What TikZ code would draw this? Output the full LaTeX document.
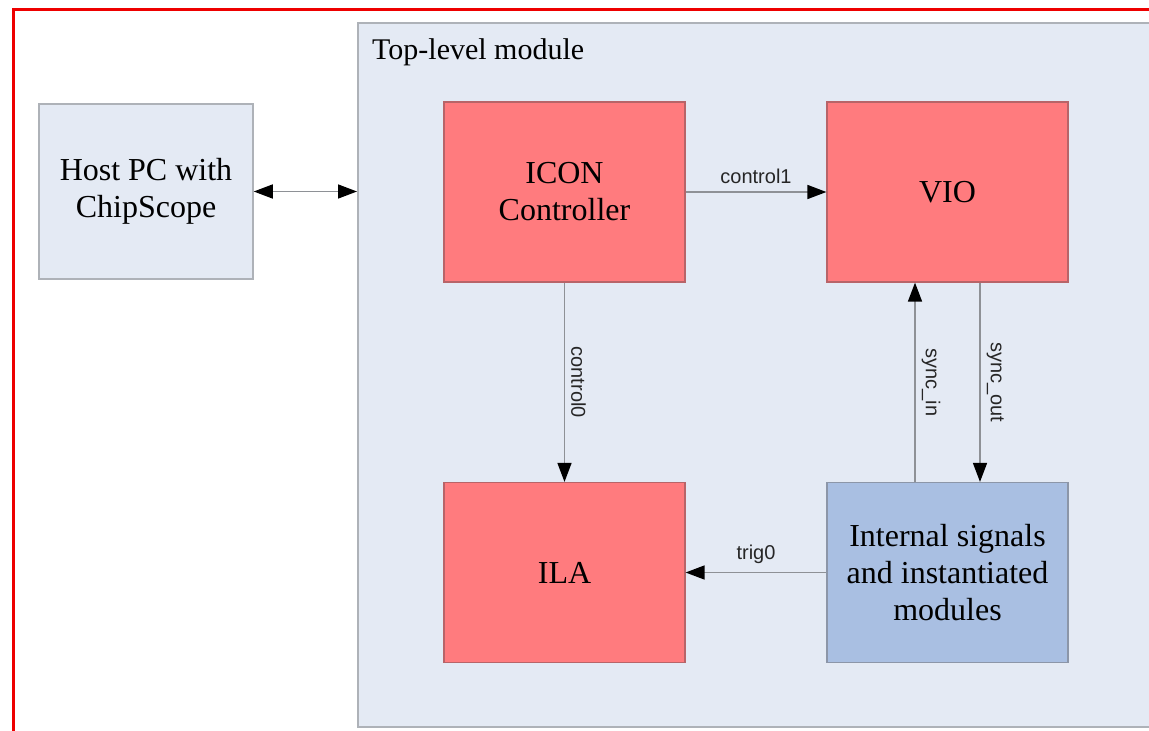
\documentclass[tikz,border=0pt]{standalone}
\usepackage{fontspec}
\setmainfont{Liberation Serif}
\newfontfamily\labfont{Liberation Sans}
\usetikzlibrary{arrows.meta}
\definecolor{panel}{HTML}{E4EAF4}
\definecolor{panelline}{HTML}{AEB2B8}
\definecolor{redfill}{HTML}{FF7B7E}
\definecolor{redline}{HTML}{B86468}
\definecolor{bluefill}{HTML}{A9BFE2}
\definecolor{blueline}{HTML}{8C96A8}
\definecolor{wire}{HTML}{8E9196}
\definecolor{frame}{HTML}{EE0000}
\tikzset{
  boxtext/.style={font=\fontsize{32}{37}\selectfont, align=center, text=black},
  hostbox/.style={draw=panelline, line width=1.5pt, fill=panel, minimum width=214, minimum height=175, inner sep=0pt, boxtext},
  redbox/.style={draw=redline, line width=1.2pt, fill=redfill, minimum width=241, minimum height=180, inner sep=0pt, boxtext},
  bluebox/.style={draw=blueline, line width=1.2pt, fill=bluefill, minimum width=241, minimum height=180, inner sep=0pt, boxtext},
  modbox/.style={draw=panelline, line width=1.5pt, fill=panel, inner sep=0pt},
  wireline/.style={draw=wire, line width=1.5pt, -{Triangle[length=19pt,width=14pt,color=black]}},
  siglabel/.style={font=\labfont\fontsize{20}{22}\selectfont, text=black!85, inner sep=0pt}
}
\begin{document}
\begin{tikzpicture}[x=1pt,y=-1pt]
\useasboundingbox (0,0) rectangle (1149,731);
\fill[white] (0,0) rectangle (1149,731);
% red frame
\draw[frame, line width=3pt] (13,760) -- (13,9) -- (1200,9);
% top-level module panel (right side runs past the edge of the picture)
\node[modbox, minimum width=900, minimum height=704, anchor=north west] (module) at (357,22) {};
\node[font=\fontsize{30}{34}\selectfont, anchor=base west, inner sep=0pt] (modlabel) at (372,59) {Top-level module};
% boxes
\node[hostbox] (host) at (146,191.5) {Host PC with\\ChipScope};
\node[redbox] (icon) at (564.5,192) {ICON\\Controller};
\node[redbox] (vio) at (947.5,192) {VIO};
\node[redbox] (ila) at (564.5,572.5) {ILA};
\node[bluebox] (int) at (947.5,572.5) {Internal signals\\and instantiated\\modules};
% connectors
\draw[wireline, {Triangle[length=19pt,width=14pt,color=black]}-{Triangle[length=19pt,width=14pt,color=black]}] (host.east) -- (host.east -| module.west);
\draw[wireline] (icon.east) -- node[siglabel, above=8pt] (lc1) {control1} (vio.west);
\draw[wireline] (icon.south) -- node[siglabel, xshift=6pt, rotate=-90, anchor=south] (lc0) {control0} (ila.north);
\coordinate (sinb) at ([xshift=-32.5pt]int.north);
\coordinate (sint) at ([xshift=-32.5pt]vio.south);
\coordinate (soutt) at ([xshift=32.5pt]vio.south);
\coordinate (soutb) at ([xshift=32.5pt]int.north);
\draw[wireline] (sinb) -- node[siglabel, xshift=6pt, rotate=-90, anchor=south] (lsin) {sync\_in} (sint);
\draw[wireline] (soutt) -- node[siglabel, xshift=6pt, rotate=-90, anchor=south] (lsout) {sync\_out} (soutb);
\draw[wireline] (int.west) -- node[siglabel, above=8pt] (ltrig) {trig0} (ila.east);
\end{tikzpicture}
\end{document}
